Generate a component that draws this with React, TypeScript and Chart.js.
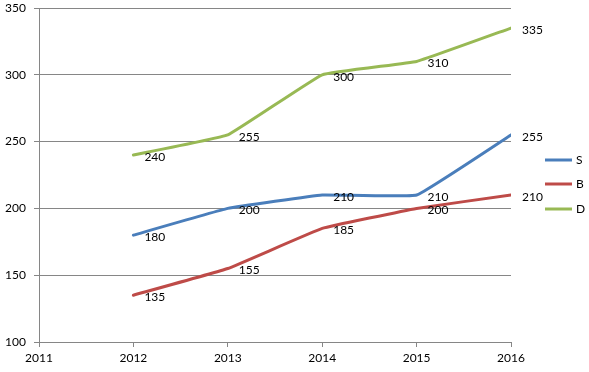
import React, { useEffect, useRef } from "react";
import { Chart, registerables } from "chart.js";

Chart.register(...registerables);

const years = [2012, 2013, 2014, 2015, 2016];
const seriesNames = ["S", "B", "D"];
const sValues = [180, 200, 210, 210, 255];
const bValues = [135, 155, 185, 200, 210];
const dValues = [240, 255, 300, 310, 335];
const colors = ["#4A7EBB", "#BE4B48", "#98B954"];

const FONT = "Lato, 'Open Sans', sans-serif";

const labelPlugin = {
  id: "pointLabels",
  afterDatasetsDraw(chart: any) {
    const ctx = chart.ctx;
    ctx.save();
    ctx.font = `12px ${FONT}`;
    ctx.fillStyle = "#000";
    ctx.textAlign = "left";
    ctx.textBaseline = "middle";
    chart.data.datasets.forEach((ds: any, i: number) => {
      const meta = chart.getDatasetMeta(i);
      meta.data.forEach((pt: any, j: number) => {
        ctx.fillText(String(ds.data[j].y), pt.x + 11, pt.y + 2);
      });
    });
    ctx.restore();
  },
};

const legendPlugin = {
  id: "customLegend",
  afterDraw(chart: any) {
    const ctx = chart.ctx;
    ctx.save();
    ctx.font = `12px ${FONT}`;
    ctx.textAlign = "left";
    ctx.textBaseline = "middle";
    const ys = [160, 184, 209];
    chart.data.datasets.forEach((ds: any, i: number) => {
      const y = ys[i];
      ctx.strokeStyle = ds.borderColor;
      ctx.lineWidth = 3;
      ctx.beginPath();
      ctx.moveTo(545, y);
      ctx.lineTo(572, y);
      ctx.stroke();
      ctx.fillStyle = "#000";
      ctx.fillText(ds.label, 576, y);
    });
    ctx.restore();
  },
};

export default function App() {
  const ref = useRef<HTMLCanvasElement>(null);
  useEffect(() => {
    const allValues = [sValues, bValues, dValues];
    const chart = new Chart(ref.current!, {
      type: "line",
      data: {
        datasets: seriesNames.map((name, i) => ({
          label: name,
          data: years.map((x, j) => ({ x, y: allValues[i][j] })),
          borderColor: colors[i],
          backgroundColor: colors[i],
          borderWidth: 3,
          pointRadius: 0,
          tension: 0.08,
          borderJoinStyle: "round",
          borderCapStyle: "round",
          fill: false,
        })),
      },
      options: {
        animation: false,
        responsive: false,
        layout: { padding: { top: 8, right: 78, left: 0, bottom: 0 } },
        plugins: { legend: { display: false }, tooltip: { enabled: false } },
        scales: {
          x: {
            type: "linear",
            min: 2011,
            max: 2016,
            ticks: {
              stepSize: 1,
              color: "#000",
              font: { family: FONT, size: 12 },
              padding: 4,
              callback: (v: any) => String(v),
            },
            grid: {
              drawOnChartArea: false,
              drawTicks: true,
              tickLength: 5,
              color: "#868686",
            },
            border: { display: true, color: "#868686" },
            afterFit: (s: any) => {
              s.height = 30;
              s.paddingLeft = 0;
              s.paddingRight = 0;
            },
          },
          y: {
            min: 100,
            max: 350,
            ticks: {
              stepSize: 50,
              color: "#000",
              font: { family: FONT, size: 12 },
              padding: 8,
            },
            grid: { color: "#868686", tickLength: 5 },
            border: { display: true, color: "#868686" },
            afterFit: (s: any) => {
              s.width = 39;
              s.paddingTop = 0;
              s.paddingBottom = 0;
            },
          },
        },
      },
      plugins: [labelPlugin, legendPlugin],
    });
    return () => chart.destroy();
  }, []);
  return (
    <div style={{ position: "fixed", left: 0, top: 0, width: 589, height: 372, background: "#fff" }}>
      <canvas ref={ref} width={589} height={372} style={{ display: "block" }} />
    </div>
  );
}
